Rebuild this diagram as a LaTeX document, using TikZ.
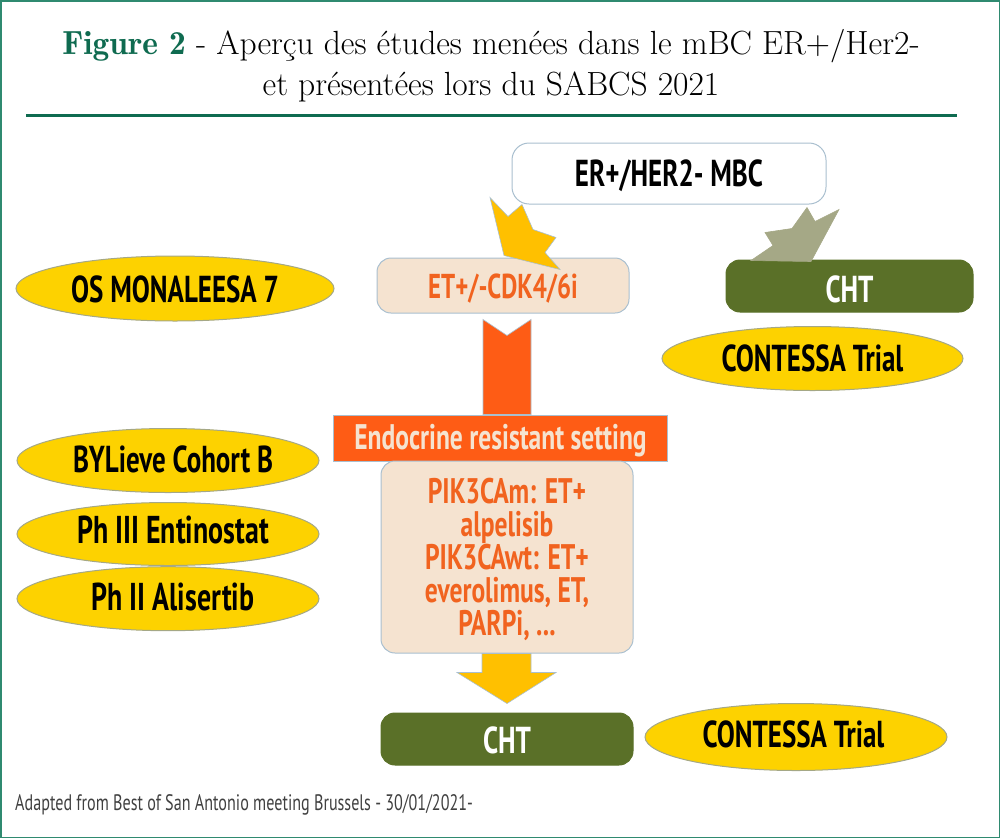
\documentclass[tikz,border=0pt]{standalone}
\usepackage{fontspec}
\setsansfont[FakeStretch=0.72]{PT Sans}
\definecolor{framegreen}{HTML}{2F8A70}
\definecolor{rulegreen}{HTML}{0F6B50}
\definecolor{linegray}{HTML}{A9BFCF}
\definecolor{peach}{HTML}{F5E3D0}
\definecolor{oliveg}{HTML}{5A7028}
\definecolor{gold}{HTML}{FDD200}
\definecolor{amber}{HTML}{FFC000}
\definecolor{sage}{HTML}{A5A886}
\definecolor{flame}{HTML}{FE5C15}
\definecolor{flametext}{HTML}{F1631F}
\tikzset{
    boxbase/.style={draw=linegray,line width=1pt,rounded corners=14pt,inner sep=0pt,text depth=0pt,
        font=\sffamily\bfseries\fontsize{37.5}{37.5}\selectfont},
    whitebox/.style={boxbase,fill=white,text=black,text height=26pt,minimum width=314pt,minimum height=61pt,rounded corners=17pt},
    peachbox/.style={boxbase,fill=peach,text=flametext,minimum width=252pt},
    chtbox/.style={boxbase,fill=oliveg,draw=oliveg,text=white,minimum height=52pt},
    goldoval/.style={ellipse,draw=sage,line width=1pt,fill=gold,text=black,inner sep=0pt,text depth=0pt,
        font=\sffamily\bfseries\fontsize{37.5}{37.5}\selectfont},
    bigoval/.style={goldoval,font=\sffamily\bfseries\fontsize{38.8}{38.8}\selectfont},
    banner/.style={draw=linegray,line width=1pt,fill=flame,text=peach,inner sep=0pt,text height=22pt,text depth=0pt,
        minimum width=334pt,minimum height=46pt,font=\sffamily\bfseries\fontsize{35.5}{35.5}\selectfont},
    blockarrow/.style={draw=linegray,line width=.6pt,line join=miter},
}
\usetikzlibrary{shapes.geometric}
\begin{document}
\begin{tikzpicture}[x=1pt,y=-1pt]
    \useasboundingbox (0,0) rectangle (1000,838);
    \draw[framegreen,line width=1.5pt] (0.75,0.75) rectangle (999.25,837.25);

    % title
    \node[align=center,inner sep=0pt,font=\fontsize{33.5}{41}\selectfont] (title) at (491,66)
        {\textcolor{rulegreen}{\fontseries{b}\selectfont Figure 2} - Aperçu des études menées dans le mBC ER+/Her2-\\
         et présentées lors du SABCS 2021};
    \coordinate (ruleleft) at (26,115);
    \coordinate (ruleright) at (957,115);
    \draw[rulegreen,line width=3pt] (ruleleft) -- (ruleright);

    % boxes
    \node[whitebox] (mbc) at (669,173.5) {ER+/HER2- MBC};
    \node[peachbox,minimum height=55pt,text height=25pt,font=\sffamily\bfseries\fontsize{34.5}{34.5}\selectfont] (ets) at (503,285.5) {ET+/-CDK4/6i};
    \node[chtbox,minimum width=247pt,text height=32pt] (chttop) at (849.5,286) {CHT};
    \node[banner] (endo) at (500.5,438) {Endocrine resistant setting};
    \node[peachbox,minimum height=192pt,align=center,font=\sffamily\bfseries\fontsize{35.5}{33}\selectfont] (pik) at (507,557)
        {PIK3CAm: ET+\\alpelisib\\PIK3CAwt: ET+\\everolimus, ET,\\PARPi, ...};
    \node[chtbox,minimum width=252pt,text height=28pt] (chtbot) at (507,739) {CHT};

    % trials
    \node[goldoval,minimum width=318pt,minimum height=65pt,text height=27pt] (monaleesa) at (175,288.5) {OS MONALEESA 7};
    \node[goldoval,minimum width=301pt,minimum height=64pt,text height=25pt] (contessatop) at (812.5,358.5) {CONTESSA Trial};
    \node[goldoval,minimum width=302pt,minimum height=64pt,text height=23pt] (bylieve) at (168,460.5) {\hspace*{10pt}BYLieve Cohort B};
    \node[bigoval,minimum width=302pt,minimum height=63pt,text height=18pt] (entinostat) at (168,534) {\hspace*{10pt}Ph III Entinostat};
    \node[bigoval,minimum width=302pt,minimum height=64pt,text height=24pt] (alisertib) at (168,598.7) {\hspace*{10pt}Ph II Alisertib};
    \node[goldoval,minimum width=302pt,minimum height=67pt,text height=21pt] (contessabot) at (796,737) {\hspace*{-5pt}CONTESSA Trial};

    % arrows
    \filldraw[blockarrow,fill=amber,shift={(ets.north)}] (-13,-60) -- (5,-41) -- (19,-53) -- (30,-28) -- (53,-20)
        -- (42,-5) -- (57,12) -- (1,-2) -- cycle;
    \filldraw[blockarrow,fill=sage,draw=sage,shift={(chttop.north)}] (-10.5,-50) -- (-34.5,-38) -- (-42.5,-52) -- (-57.5,-31)
        -- (-84.5,-27) -- (-76.5,-14) -- (-98.5,1) -- (-38.5,2) -- cycle;
    \filldraw[blockarrow,fill=flame] ([xshift=-20pt,yshift=-6pt]ets.south) -- ([xshift=4pt,yshift=-22pt]ets.south)
        -- ([xshift=28pt,yshift=-6pt]ets.south) -- ([xshift=30.5pt]endo.north) -- ([xshift=-17.5pt]endo.north) -- cycle;
    \filldraw[blockarrow,fill=amber] ([xshift=-25pt]pik.south) -- ([xshift=-25pt,yshift=-19pt]pik.south)
        -- ([xshift=-50pt,yshift=-19pt]pik.south) -- ([yshift=9pt]chtbot.north) -- ([xshift=49pt,yshift=-19pt]pik.south)
        -- ([xshift=24pt,yshift=-19pt]pik.south) -- ([xshift=24pt]pik.south) -- cycle;

    % source
    \node[anchor=base west,inner sep=0pt,text=black!75,font=\sffamily\fontsize{22.4}{22.4}\selectfont] (source) at (15,810)
        {Adapted from Best of San Antonio meeting Brussels - 30/01/2021-};
\end{tikzpicture}
\end{document}
